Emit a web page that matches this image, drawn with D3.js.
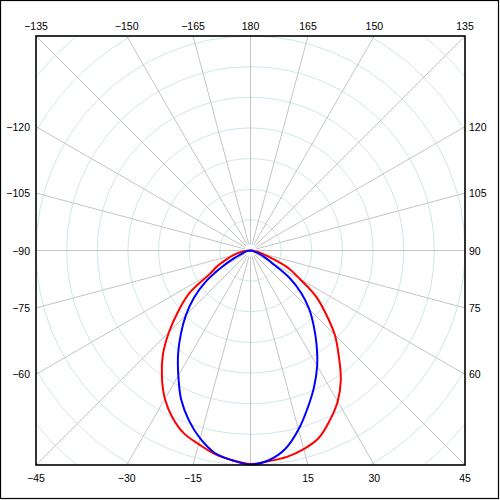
<!DOCTYPE html>
<html><head><meta charset="utf-8">
<script src="https://cdn.jsdelivr.net/npm/d3@7"></script>
<style>body{margin:0;background:#fff}svg{display:block}</style>
</head><body><svg id="c" width="500" height="500"></svg>
<script>
// angles in degrees (0 = bottom, negative = left side)
const angles = [-90,-85,-80,-75,-70,-65,-60,-55,-50,-45,-40,-35,-30,-25,-20,-15,-10,-5,0,
                5,10,15,20,25,30,35,40,45,50,55,60,65,70,75,80,85,90];
const redValues = [0,1.3,3.6,5.6,8.2,11.8,15.4,24.5,30.7,37.6,44.5,50.4,55.9,60.2,63.5,65.4,67.4,68.7,69.7,
                   69.0,68.4,67.1,65.1,61.2,56.9,51.4,44.8,38.9,32.1,26.0,18.6,13.7,7.2,3.9,2.0,0.7,0];
const blueValues = [0,0.7,1.3,2.0,2.9,5.9,10.8,18.0,24.2,29.8,35.3,41.2,47.1,53.6,58.9,63.5,67.1,68.7,69.8,
                    68.7,65.7,60.5,54.6,49.1,43.5,37.6,32.1,27.1,21.6,15.4,7.9,4.9,2.6,1.3,1.0,0.3,0];
const gridAngles = [-165,-150,-135,-120,-105,-90,-75,-60,-45,-30,-15,0,15,30,45,60,75,90,105,120,135,150,165,180];
const tickLabels = ["−165","−150","−135","−120","−105","−90","−75","−60","−45","−30","−15","","15","30","45","60","75","90","105","120","135","150","165","180"];
const ringValues = [10,20,30,40,50,60,70,80,90];

const cx = 250.5, cy = 250.5, R = 214.5;
const svg = d3.select("#c");
const rScale = d3.scaleLinear().domain([0,70]).range([0,R]);
const rad = d => d*Math.PI/180;

// outer border
svg.append("rect").attr("x",0.5).attr("y",0.5).attr("width",498).attr("height",498)
  .attr("fill","#fff").attr("stroke","#000").attr("stroke-width",1.2);

svg.append("defs").append("clipPath").attr("id","clip")
  .append("rect").attr("x",cx-R).attr("y",cy-R).attr("width",2*R).attr("height",2*R);

const grid = svg.append("g").attr("clip-path","url(#clip)");

grid.selectAll("circle.ring").data(ringValues).join("circle")
  .attr("cx",cx).attr("cy",cy).attr("r",d=>rScale(d))
  .attr("fill","none").attr("stroke","#cfe6ee").attr("stroke-width",1);

function edgeLen(a){ const s=Math.abs(Math.sin(rad(a))), c=Math.abs(Math.cos(rad(a))); return R/Math.max(s,c); }

grid.selectAll("line.spoke").data(gridAngles).join("line")
  .attr("x1",d=>cx+6*Math.sin(rad(d))).attr("y1",d=>cy+6*Math.cos(rad(d)))
  .attr("x2",d=>cx+edgeLen(d)*Math.sin(rad(d))).attr("y2",d=>cy+edgeLen(d)*Math.cos(rad(d)))
  .attr("stroke","#c4c4c4").attr("stroke-width",1);

// curves
const g = svg.append("g").attr("transform",`translate(${cx},${cy})`);
const line = d3.lineRadial().curve(d3.curveCatmullRom.alpha(0.5))
  .angle(d=>Math.PI - rad(d.a)).radius(d=>rScale(d.v));
const redData = angles.map((a,i)=>({a, v:redValues[i]}));
const blueData = angles.map((a,i)=>({a, v:blueValues[i]}));
g.append("path").attr("d",line(redData)).attr("fill","none").attr("stroke","#ff0000").attr("stroke-width",2).attr("stroke-linejoin","round");
g.append("path").attr("d",line(blueData)).attr("fill","none").attr("stroke","#0000ff").attr("stroke-width",2).attr("stroke-linejoin","round");

// plot border
svg.append("rect").attr("x",cx-R).attr("y",cy-R).attr("width",2*R).attr("height",2*R)
  .attr("fill","none").attr("stroke","#000").attr("stroke-width",1.6);

// labels
const lab = svg.append("g").attr("font-family","'Liberation Sans', Arial, sans-serif").attr("font-size","10.5px").attr("fill","#000");
gridAngles.forEach((a,i)=>{
  const t = tickLabels[i]; if(!t) return;
  const s = Math.sin(rad(a)), c = Math.cos(rad(a));
  const L = edgeLen(a);
  const x = cx + L*s, y = cy + L*c;
  let tx, ty, anchor;
  if (c >= 0.7) { tx = x; ty = 482; anchor = "middle"; }
  else if (c <= -0.7) { tx = x; ty = 29.5; anchor = "middle"; }
  else if (s < 0) { tx = 30; ty = y+4; anchor = "end"; }
  else { tx = 469; ty = y+4; anchor = "start"; }
  lab.append("text").attr("x",tx).attr("y",ty).attr("text-anchor",anchor).text(t);
});
</script>
</body></html>
